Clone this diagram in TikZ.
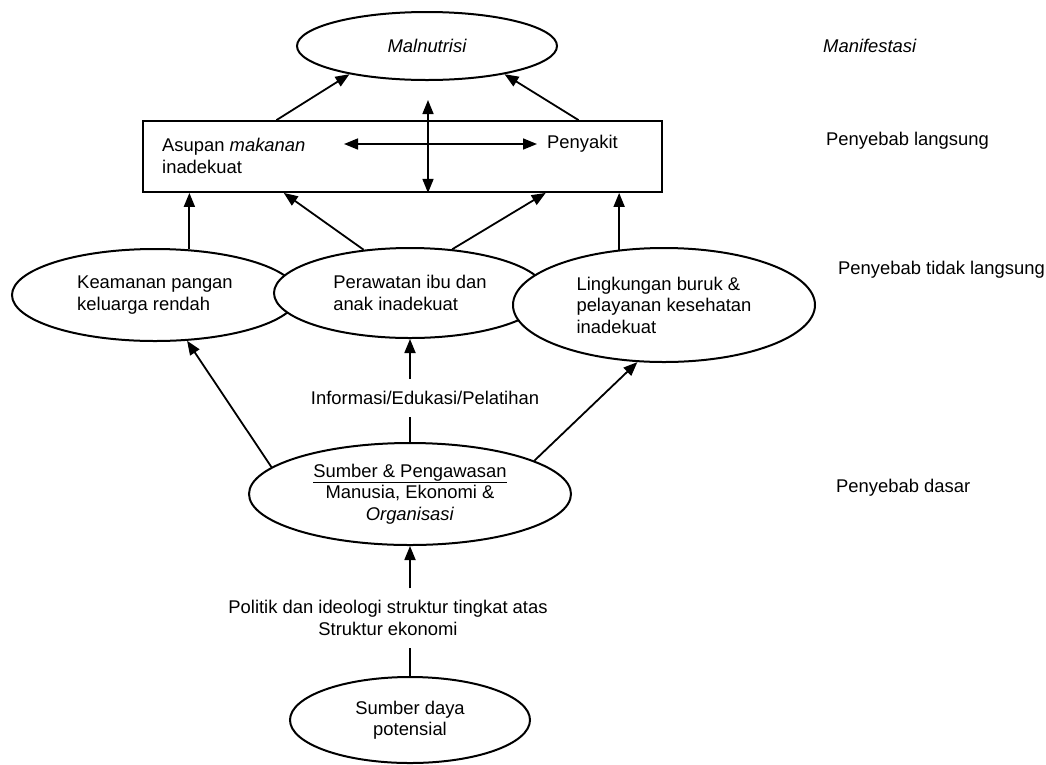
\documentclass[tikz,border=0pt]{standalone}
\usepackage{fontspec}
\setmainfont{Liberation Sans}
\usetikzlibrary{
  arrows.meta,
  shapes.geometric,
  calc,
}
\newcommand{\causefont}{\fontsize{18.4}{21.5}\selectfont}
\tikzset{
  causenode/.style={
    ellipse, draw=black, line width=2pt, fill=white,
    inner sep=0pt, align=left, font=\causefont
  },
  boxnode/.style={rectangle, draw=black, line width=1.8pt, inner sep=0pt},
  plaintext/.style={inner sep=2pt, align=left, font=\causefont},
  flowlabel/.style={inner xsep=2pt, inner ysep=12pt, align=center, font=\causefont},
  sidelabel/.style={anchor=west, inner sep=0pt, font=\causefont},
  linkarrow/.style={-{Triangle[length=14pt,width=11pt]}, line width=1.8pt},
  plainlink/.style={line width=1.8pt},
  dblarrow/.style={{Triangle[length=14pt,width=11pt]}-{Triangle[length=14pt,width=11pt]}, line width=1.6pt},
}

\begin{document}
\begin{tikzpicture}[x=1pt, y=-1pt]
  \useasboundingbox (0,0) rectangle (1046,764);

  % ── Manifestasi ──
  \node[causenode, minimum width=260pt, minimum height=68pt, font=\causefont\itshape]
    (malnut) at (427,46) {Malnutrisi};

  % ── Penyebab langsung ──
  \node[boxnode, minimum width=519pt, minimum height=71pt] (box) at (402.5,156.5) {};
  \node[plaintext, anchor=west] (asupan) at (160,156) {Asupan \textit{makanan}\\inadekuat};
  \node[plaintext, anchor=west] (penyakit) at (545,144) {Penyakit};
  \coordinate (hleft) at (344,144);
  \coordinate (vtop) at (428,100);

  % ── Penyebab tidak langsung ──
  \node[causenode, minimum width=286pt, minimum height=92pt] (keamanan) at (155,295)
    {Keamanan pangan\\keluarga rendah};
  \node[causenode, minimum width=272pt, minimum height=90pt] (perawatan) at (410,293)
    {Perawatan ibu dan\\anak inadekuat};
  \node[causenode, minimum width=302pt, minimum height=114pt] (lingkungan) at (664,305)
    {Lingkungan buruk \&\\pelayanan kesehatan\\inadekuat};

  % ── Penyebab dasar ──
  \node[flowlabel] (info) at (425,398) {Informasi/Edukasi/Pelatihan};
  \node[causenode, minimum width=322pt, minimum height=102pt, align=center] (sumber) at (410,494)
    {\underline{Sumber \& Pengawasan}\\Manusia, Ekonomi \&\\\textit{Organisasi}};
  \node[flowlabel] (politik) at (388,618)
    {Politik dan ideologi struktur tingkat atas\\Struktur ekonomi};
  \node[causenode, minimum width=240pt, minimum height=86pt, align=center] (potensial) at (410,720)
    {Sumber daya\\potensial};

  % ── Level labels ──
  \node[sidelabel, font=\causefont\itshape] (lblmanif) at (823,46) {Manifestasi};
  \node[sidelabel] (lbllangsung) at (826,141) {Penyebab langsung};
  \node[sidelabel] (lbltidak) at (838,270) {Penyebab tidak langsung};
  \node[sidelabel] (lbldasar) at (836,488) {Penyebab dasar};

  % ── Arrows to Malnutrisi ──
  \draw[linkarrow] ($(box.north west)!0.258!(box.north east)$) -- (malnut.-160);
  \draw[linkarrow] ($(box.north west)!0.838!(box.north east)$) -- (malnut.-20);
  \draw[dblarrow] (vtop) -- (vtop |- box.south);
  \draw[dblarrow] (hleft) -- ([xshift=-8pt]penyakit.west);

  % ── Arrows into the box ──
  \draw[linkarrow] (keamanan.53) -- (keamanan.53 |- box.south);
  \draw[linkarrow] (perawatan.137) -- ($(box.south west)!0.272!(box.south east)$);
  \draw[linkarrow] (perawatan.46) -- ($(box.south west)!0.775!(box.south east)$);
  \draw[linkarrow] (lingkungan.129) -- (lingkungan.129 |- box.south);

  % ── Arrows from Sumber & Pengawasan ──
  \draw[linkarrow] (sumber.169) -- (keamanan.-55);
  \draw[linkarrow] (sumber.15) -- (lingkungan.-115);
  \draw[plainlink] (sumber.north) -- (info.south -| sumber.north);
  \draw[linkarrow] (info.north -| sumber.north) -- (perawatan.south -| sumber.north);
  \draw[linkarrow] (politik.north -| sumber.south) -- (sumber.south);
  \draw[plainlink] (potensial.north) -- (potensial.north |- politik.south);

\end{tikzpicture}
\end{document}
